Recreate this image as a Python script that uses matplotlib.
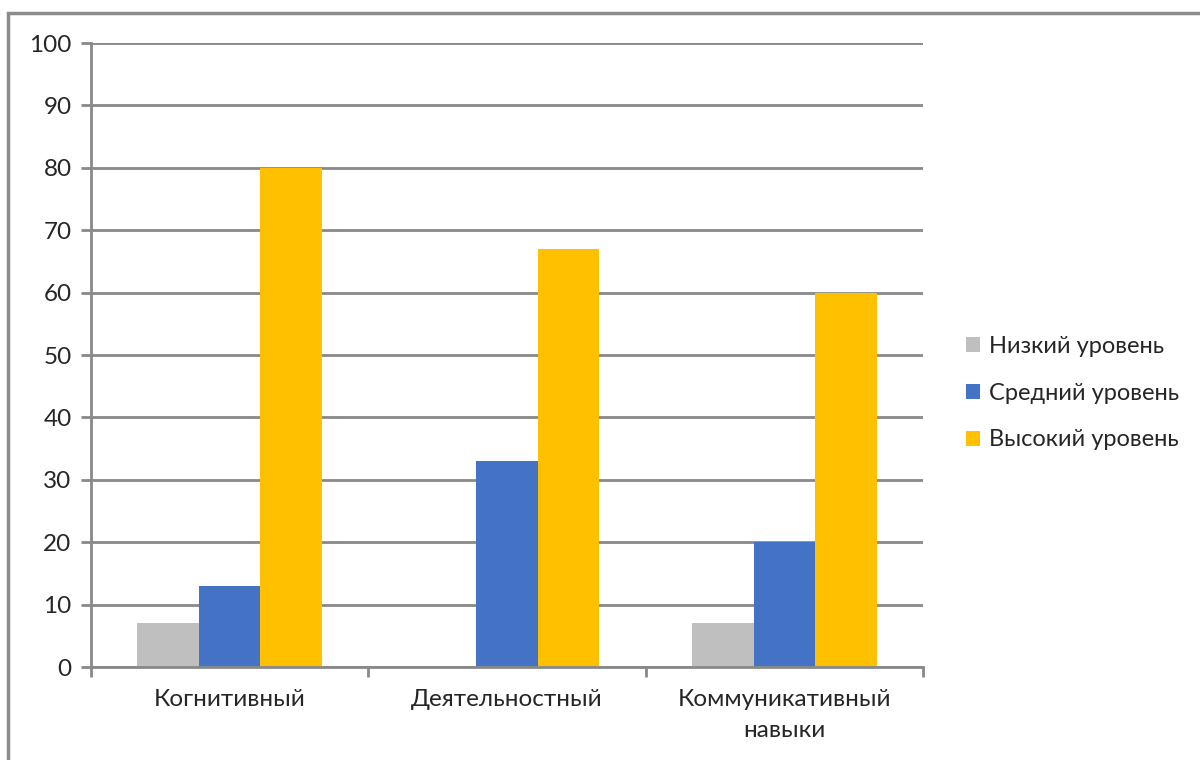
import matplotlib
matplotlib.use("Agg")
import matplotlib.pyplot as plt
from matplotlib.patches import Rectangle
import numpy as np

categories = ["Когнитивный", "Деятельностный", "Коммуникативный\nнавыки"]
series_names = ["Низкий уровень", "Средний уровень", "Высокий уровень"]
low = [7, 0, 7]
mid = [13, 33, 20]
high = [80, 67, 60]
yticks = [0, 10, 20, 30, 40, 50, 60, 70, 80, 90, 100]

colors = ["#BFBFBF", "#4472C4", "#FFC000"]
grid_c = "#898989"

plt.rcParams['font.family'] = ['Lato', 'DejaVu Sans']

fig = plt.figure(figsize=(12, 7.6), dpi=100)
ax = fig.add_axes([91/1200, 1-667/760, (923-91)/1200, (667-43)/760])

x = np.arange(len(categories))
w = 0.222
for i, (vals, name, c) in enumerate(zip([low, mid, high], series_names, colors)):
    ax.bar(x + (i-1)*w, vals, width=w, color=c, label=name, zorder=3)

ax.set_xlim(-0.5, 2.5)
ax.set_ylim(0, 100)
ax.set_yticks(yticks)
ax.set_yticklabels([str(v) for v in yticks], fontsize=17.5, color="#262626")
ax.yaxis.grid(True, color=grid_c, linewidth=2, zorder=0)
ax.set_xticks([-0.5, 0.5, 1.5, 2.5])
ax.set_xticklabels([])
ax.set_xticks(x, minor=True)
ax.set_xticklabels(categories, minor=True, fontsize=17.5, color="#262626",
                   linespacing=1.55, va="top")
ax.tick_params(axis='x', which='minor', length=0, pad=16)
ax.tick_params(axis='x', which='major', length=7, width=2, color=grid_c)
ax.tick_params(axis='y', length=7, width=2, color=grid_c, pad=7)
for s in ["top", "right"]:
    ax.spines[s].set_visible(False)
for s in ["left", "bottom"]:
    ax.spines[s].set_color(grid_c)
    ax.spines[s].set_linewidth(2)
    ax.spines[s].set_zorder(4)

leg = fig.legend(loc="center left", bbox_to_anchor=(945/1200, 1-393/760),
                 frameon=False, fontsize=17, handlelength=0.6, handleheight=0.6,
                 handletextpad=0.35, labelspacing=1.1, labelcolor="#262626")

fig.patches.append(Rectangle((8/1200, -0.1), 1.2, (760-13)/760 + 0.1,
                             transform=fig.transFigure, fill=False,
                             edgecolor="#8C8C8C", linewidth=2.5))

fig.savefig("out.png", dpi=100, facecolor="white")
